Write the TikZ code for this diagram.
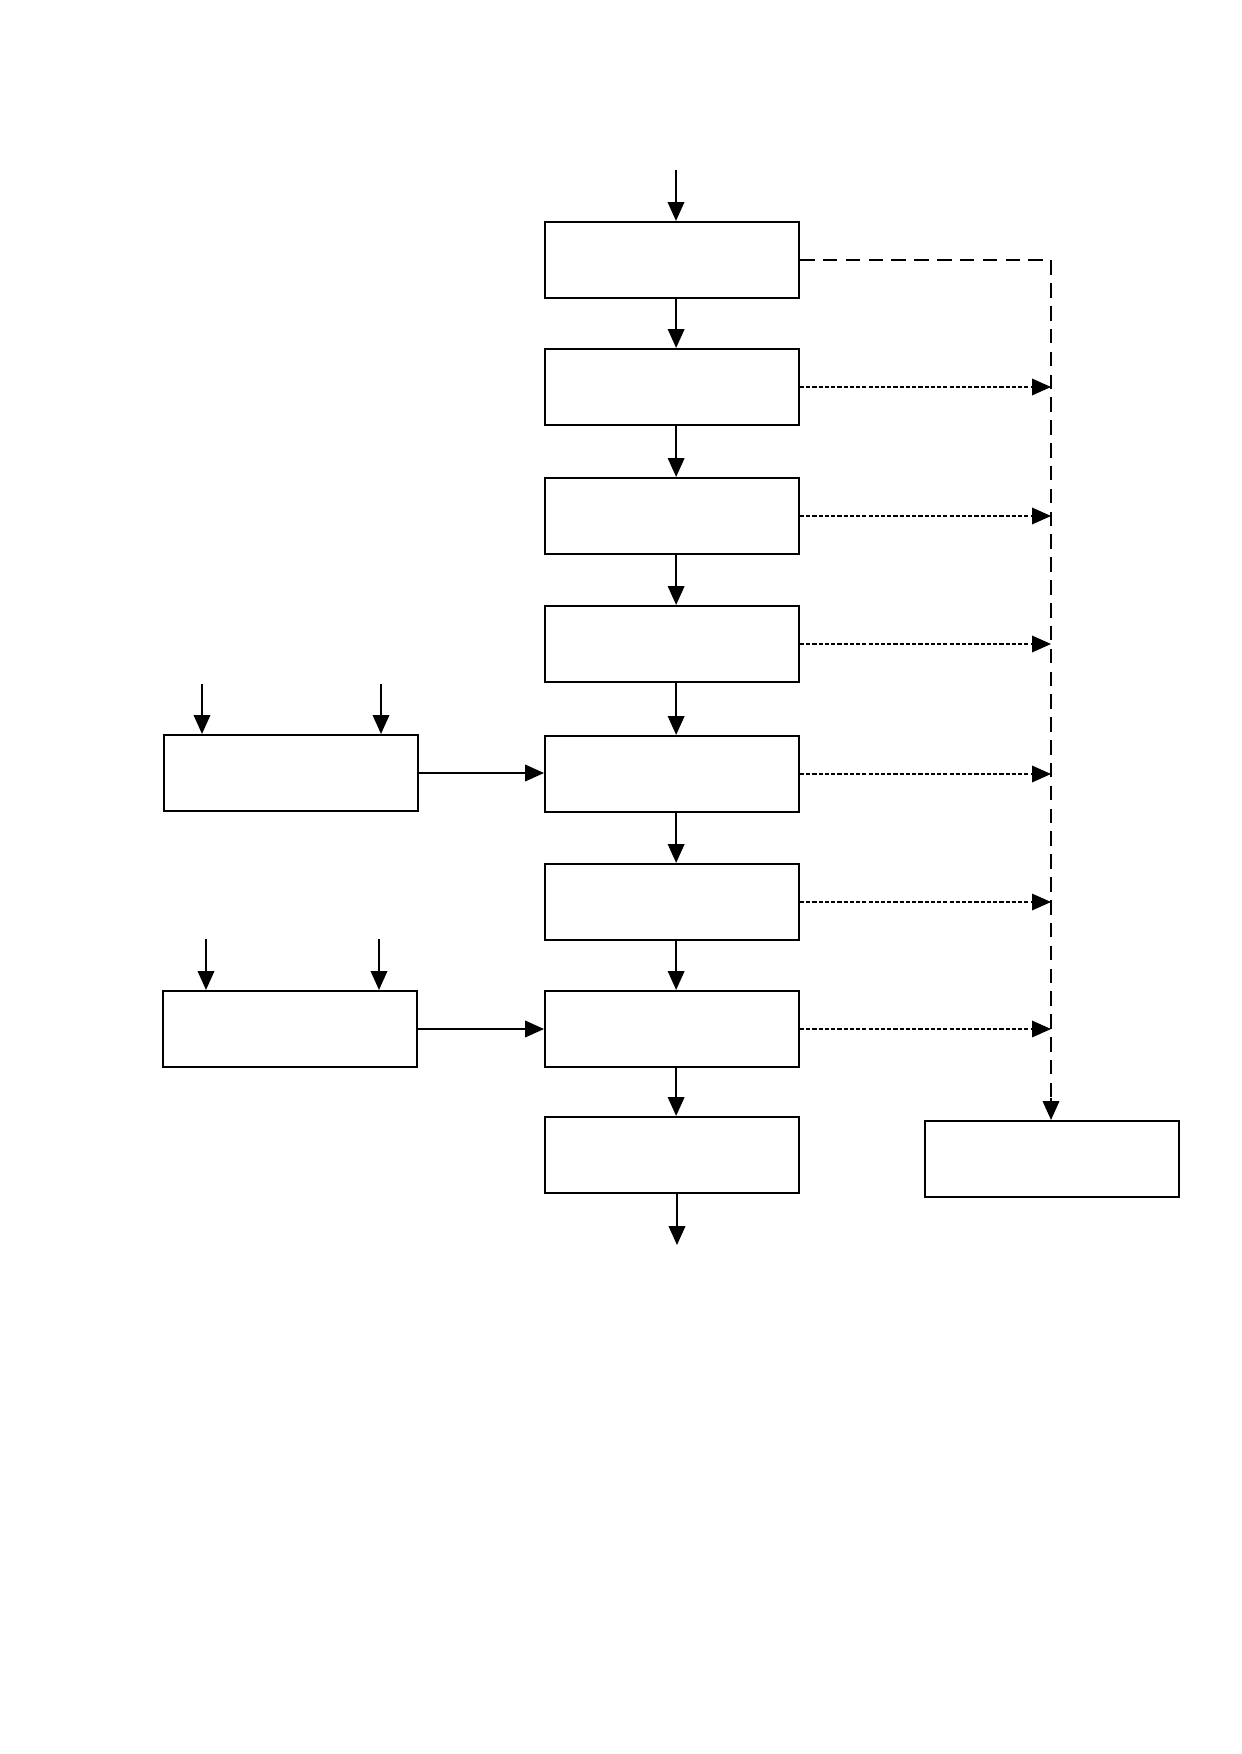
\documentclass[tikz,border=0pt]{standalone}
\usetikzlibrary{arrows.meta}

\begin{document}
\begin{tikzpicture}[x=0.016922cm, y=-0.016922cm,
    box/.style={draw, line width=0.9pt, minimum width=4.3cm, minimum height=1.29cm, inner sep=0pt},
    arr/.style={line width=0.9pt, -{Triangle[length=0.32cm, width=0.28cm]}},
    dotarr/.style={line width=0.6pt, dash pattern=on 2pt off 1pt, -{Triangle[length=0.32cm, width=0.28cm]}},
    longdash/.style={line width=0.9pt, dash pattern=on 7pt off 4pt}]
                \useasboundingbox (0,0) rectangle (1241,1754);

                % main column
                \node[box] (b1) at (672,260) {};
                \node[box] (b2) at (672,387) {};
                \node[box] (b3) at (672,516) {};
                \node[box] (b4) at (672,644) {};
                \node[box] (b5) at (672,774) {};
                \node[box] (b6) at (672,902) {};
                \node[box] (b7) at (672,1029) {};
                \node[box] (b8) at (672,1155) {};

                % side boxes
                \node[box] (l1) at (291,773) {};
                \node[box] (l2) at (290,1029) {};
                \node[box] (r1) at (1052,1159) {};

                \coordinate (in) at (676,170);
                \coordinate (out) at (677,1245);
                \coordinate (i1) at (202,684);
                \coordinate (i2) at (381,684);
                \coordinate (i3) at (206,939);
                \coordinate (i4) at (379,939);
                \coordinate (c1) at (1051,260);

                \draw[arr] (in) -- (in |- b1.north);
                \foreach \a/\b in {b1/b2,b2/b3,b3/b4,b4/b5,b5/b6,b6/b7,b7/b8}
                    \draw[arr] ([xshift=0.07cm]\a.south) -- ([xshift=0.07cm]\b.north);
                \draw[arr] (out |- b8.south) -- (out);

                \draw[arr] (i1) -- (i1 |- l1.north);
                \draw[arr] (i2) -- (i2 |- l1.north);
                \draw[arr] (i3) -- (i3 |- l2.north);
                \draw[arr] (i4) -- (i4 |- l2.north);
                \draw[arr] (l1.east) -- (l1.east -| b5.west);
                \draw[arr] (l2.east) -- (l2.east -| b7.west);

                % dashed collector
                \draw[longdash] (b1.east) -- (c1) -- ([yshift=0.36cm]c1 |- r1.north);
                \draw[arr] ([yshift=0.37cm]c1 |- r1.north) -- (c1 |- r1.north);
                \foreach \b in {b2,b3,b4,b5,b6,b7}
                    \draw[dotarr] (\b.east) -- (\b.east -| c1);
\end{tikzpicture}
\end{document}
